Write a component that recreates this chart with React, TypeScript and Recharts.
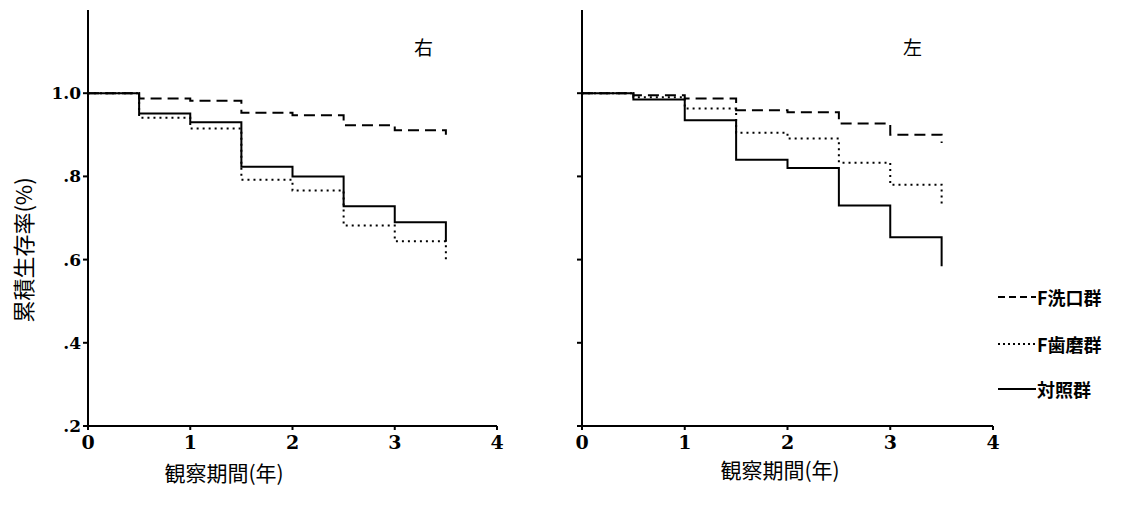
import { LineChart, Line, XAxis, YAxis } from 'recharts';

// 観察期間(年)
const years = [0, 0.5, 1, 1.5, 2, 2.5, 3, 3.5];

// 右
const rinseRight = [1.0, 0.987, 0.982, 0.953, 0.947, 0.923, 0.911, 0.9];
const brushRight = [1.0, 0.941, 0.915, 0.792, 0.766, 0.682, 0.644, 0.6];
const controlRight = [1.0, 0.951, 0.93, 0.823, 0.8, 0.728, 0.69, 0.643];

// 左
const rinseLeft = [1.0, 0.995, 0.987, 0.959, 0.954, 0.927, 0.9, 0.88];
const brushLeft = [1.0, 0.99, 0.963, 0.905, 0.891, 0.833, 0.78, 0.728];
const controlLeft = [1.0, 0.985, 0.935, 0.84, 0.82, 0.73, 0.654, 0.584];

const xTicks = [0, 1, 2, 3, 4];
const yTicks = [0.2, 0.4, 0.6, 0.8, 1.0];
const seriesNames = ['F洗口群', 'F歯磨群', '対照群'];
const seriesDash = ['11 6', '2 4', undefined];
const legendDash = ['7 4', '2 3', undefined];

const INK = '#000';
const serif = '"DejaVu Serif", serif';
const cjk = '"Noto Sans CJK JP", sans-serif';

const build = (rinse: number[], brush: number[], control: number[]) =>
  years.map((t, i) => ({ t, rinse: rinse[i], brush: brush[i], control: control[i] }));

const fmtY = (v: number) => (v === 1 ? '1.0' : String(v).replace(/^0/, ''));

const XTick = ({ x, y, payload }: any) => (
  <text x={x} y={y + 17} textAnchor="middle" fill={INK} fontFamily={serif} fontSize={19} fontWeight={700}>
    {payload.value}
  </text>
);

const YTick = ({ x, y, payload }: any) => (
  <text x={x} y={y + 6} textAnchor="end" fill={INK} fontFamily={serif} fontSize={17} fontWeight={700}>
    {fmtY(payload.value)}
  </text>
);

interface PanelProps {
  data: { t: number; rinse: number; brush: number; control: number }[];
  left: number;
  marginRight: number;
  showLabels: boolean;
}

function Panel({ data, left, marginRight, showLabels }: PanelProps) {
  const line = { stroke: INK, strokeWidth: 2 };
  return (
    <div style={{ position: 'absolute', left, top: 0 }}>
      <LineChart width={520} height={460} data={data} margin={{ top: 10, right: marginRight, left: 0, bottom: 0 }}>
        <XAxis
          dataKey="t"
          type="number"
          domain={[0, 4]}
          ticks={xTicks}
          height={34}
          tickSize={4}
          tickMargin={2}
          axisLine={line}
          tickLine={line}
          tick={<XTick />}
        />
        <XAxis xAxisId="top" orientation="top" type="number" domain={[0, 4]} height={0} tick={false} tickLine={false} axisLine={line} />
        <YAxis
          type="number"
          domain={[0.2, 1.2]}
          ticks={yTicks}
          width={88}
          tickSize={5}
          tickMargin={2}
          axisLine={line}
          tickLine={line}
          tick={showLabels ? <YTick /> : () => <g />}
        />
        <YAxis yAxisId="right" orientation="right" type="number" domain={[0.2, 1.2]} width={0} tick={false} tickLine={false} axisLine={line} />
        <Line type="stepAfter" dataKey="rinse" name={seriesNames[0]} stroke={INK} strokeWidth={2} strokeDasharray={seriesDash[0]} dot={false} isAnimationActive={false} />
        <Line type="stepAfter" dataKey="brush" name={seriesNames[1]} stroke={INK} strokeWidth={2} strokeDasharray={seriesDash[1]} dot={false} isAnimationActive={false} />
        <Line type="stepAfter" dataKey="control" name={seriesNames[2]} stroke={INK} strokeWidth={2} dot={false} isAnimationActive={false} />
      </LineChart>
    </div>
  );
}

export default function App() {
  const text = { position: 'absolute' as const, fontFamily: cjk, color: INK, whiteSpace: 'nowrap' as const, lineHeight: 1 };
  return (
    <div style={{ position: 'absolute', left: 0, top: 0, width: 1133, height: 513, background: '#fff' }}>
      <Panel data={build(rinseRight, brushRight, controlRight)} left={0} marginRight={23} showLabels />
      <Panel data={build(rinseLeft, brushLeft, controlLeft)} left={494} marginRight={21} showLabels={false} />

      <div style={{ ...text, left: 414, top: 37, fontSize: 19 }}>右</div>
      <div style={{ ...text, left: 903, top: 37, fontSize: 19 }}>左</div>

      <div style={{ ...text, left: 22, top: 250, fontSize: 22, transform: 'translate(-50%, -50%) rotate(-90deg)' }}>
        累積生存率(%)
      </div>
      <div style={{ ...text, left: 224, top: 472, fontSize: 21, transform: 'translate(-50%, -50%)' }}>観察期間(年)</div>
      <div style={{ ...text, left: 780, top: 469, fontSize: 21, transform: 'translate(-50%, -50%)' }}>観察期間(年)</div>

      {/* legend */}
      {seriesNames.map((name, i) => (
        <div key={name} style={{ ...text, left: 997, top: [288, 335, 380][i], fontSize: 18, fontWeight: 700, display: 'flex', alignItems: 'center' }}>
          <svg width={40} height={12}>
            <line x1={1} y1={6} x2={39} y2={6} stroke={INK} strokeWidth={2} strokeDasharray={legendDash[i]} />
          </svg>
          <span>{name}</span>
        </div>
      ))}
    </div>
  );
}
